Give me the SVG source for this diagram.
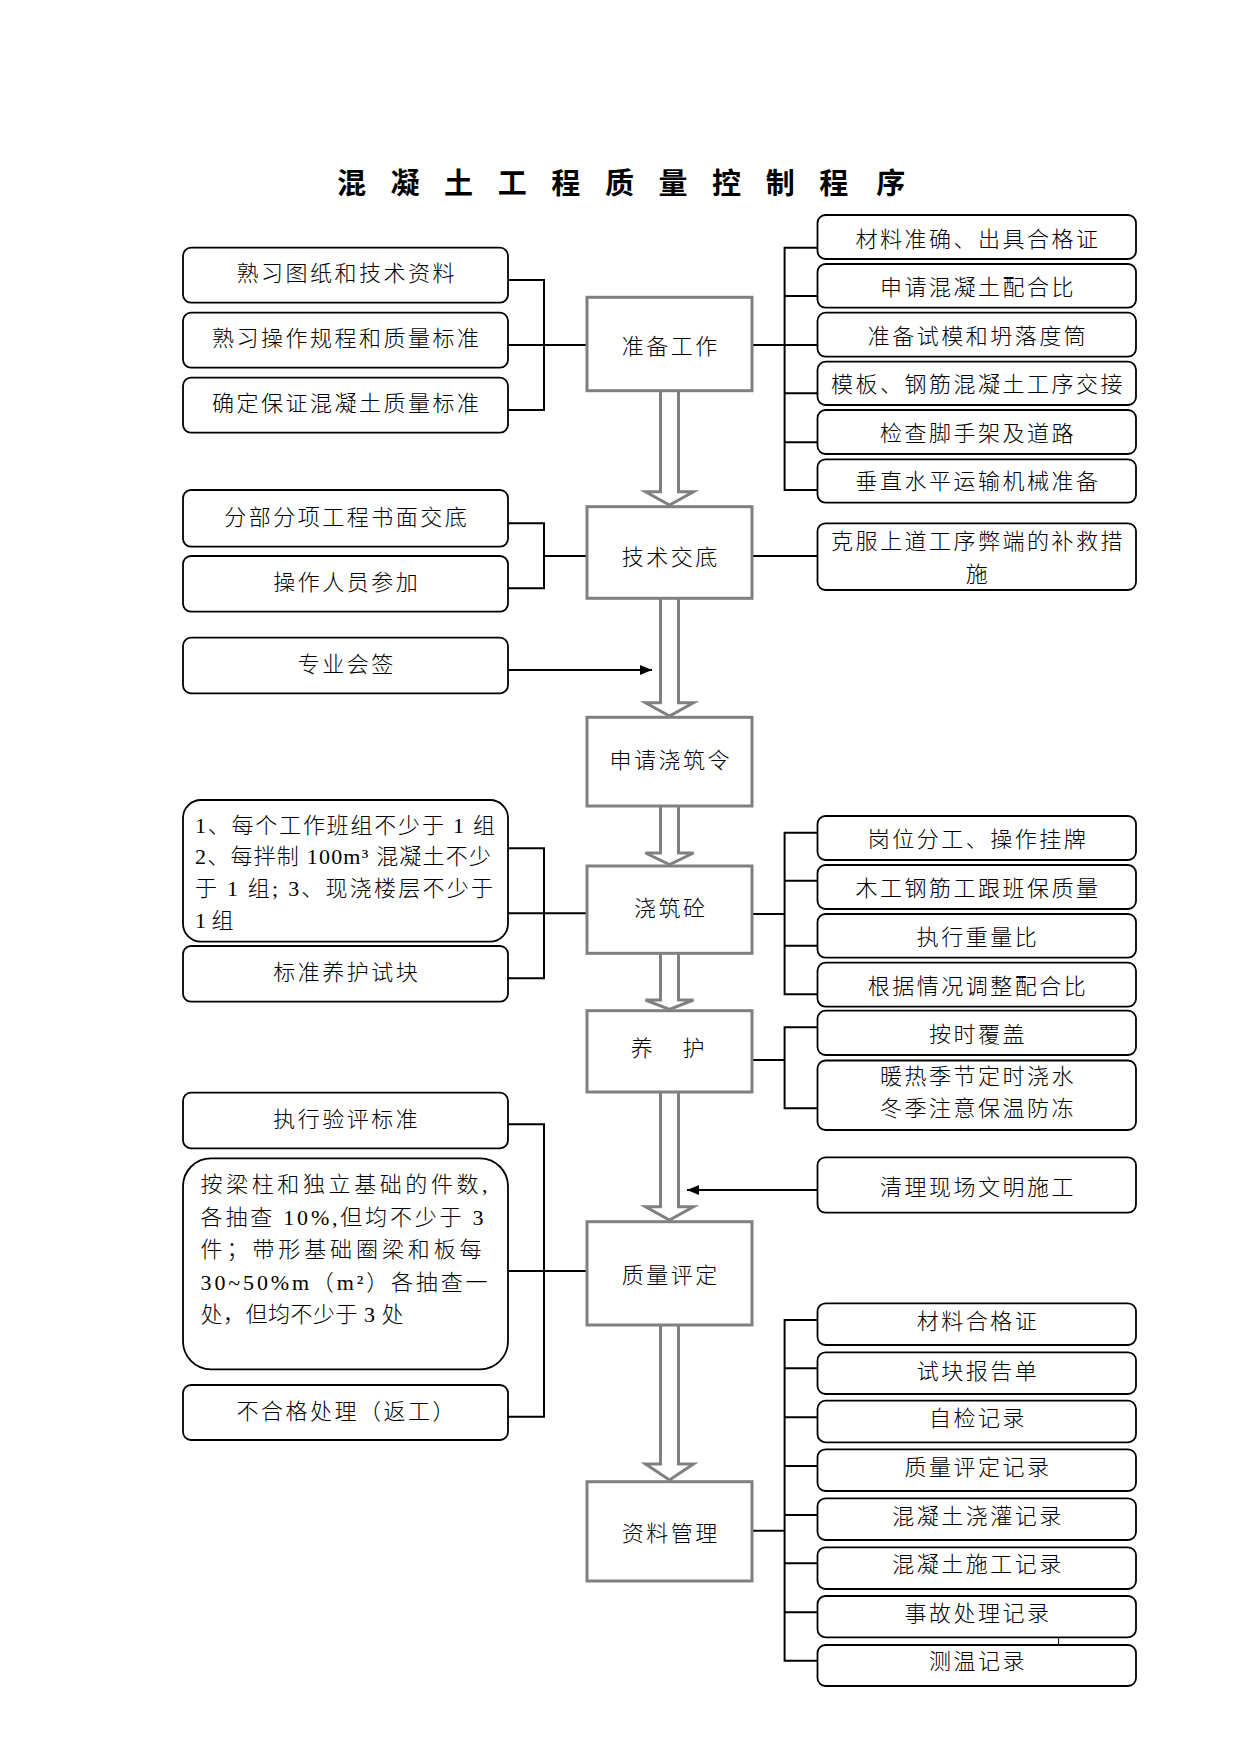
<svg xmlns="http://www.w3.org/2000/svg" width="1241" height="1755" viewBox="0 0 1241 1755">
<style>
.t{font-family:"Liberation Serif","Noto Sans CJK SC",serif;font-size:22px;fill:#000;font-weight:300}
.c{text-anchor:middle;letter-spacing:2.5px}
.title{font-family:"Noto Sans CJK SC",sans-serif;font-size:29px;font-weight:700;fill:#000;text-anchor:middle}
.rb{fill:#fff;stroke:#000;stroke-width:1.8}
.cb{fill:#fff;stroke:#808080;stroke-width:3}
.ln{stroke:#000;stroke-width:2;fill:none}
.ba{fill:#fff;stroke:#808080;stroke-width:3}
</style>
<defs>
<marker id="ah" markerWidth="12" markerHeight="10" refX="12" refY="5" orient="auto" markerUnits="userSpaceOnUse"><path d="M0,0 L12,5 L0,10 z" fill="#000"/></marker>
</defs>
<rect width="1241" height="1755" fill="#fff"/>

<text class="title" y="194"><tspan x="354.7">混 </tspan><tspan x="408.3">凝 </tspan><tspan x="461.9">土 </tspan><tspan x="515.5">工 </tspan><tspan x="569.1">程 </tspan><tspan x="622.7">质 </tspan><tspan x="676.3">量 </tspan><tspan x="729.9">控 </tspan><tspan x="783.5">制 </tspan><tspan x="837.1">程 </tspan><tspan x="890.7">序</tspan></text>

<g id="connectors">
<path class="ba" d="M660.5,390.7 V491.7 H645.5 L669.5,505 L693.5,491.7 H678.5 V390.7"/>
<path class="ba" d="M660.5,598.3 V702.7 H645.5 L669.5,716 L693.5,702.7 H678.5 V598.3"/>
<path class="ba" d="M660.5,806 V853 H645.5 L669.5,864.5 L693.5,853 H678.5 V806"/>
<path class="ba" d="M660.5,953.3 V1000 H645.5 L669.5,1009.5 L693.5,1000 H678.5 V953.3"/>
<path class="ba" d="M660.5,1092 V1206.7 H645.5 L669.5,1220 L693.5,1206.7 H678.5 V1092"/>
<path class="ba" d="M660.5,1325 V1464 H645.5 L669.5,1480 L693.5,1464 H678.5 V1325"/>
<path class="ln" d="M508,280 H544 V410 H508 M508,345 H587"/>
<path class="ln" d="M508,523.3 H544 V588.3 H508 M544,556 H587"/>
<line class="ln" x1="508" y1="670" x2="652" y2="670" marker-end="url(#ah)"/>
<path class="ln" d="M508,848.3 H544 V978.3 H508 M508,913.3 H587"/>
<path class="ln" d="M508,1124.3 H544 V1416.7 H508 M508,1271 H587"/>
<path class="ln" d="M752,345 H784.6 M817.5,247.7 H784.6 V490 H817.5 M784.6,296 H817.5 M784.6,345 H817.5 M784.6,393.3 H817.5 M784.6,442.3 H817.5"/>
<path class="ln" d="M752,556 H817.5"/>
<path class="ln" d="M752,914 H784.6 M817.5,832.7 H784.6 V994.3 H817.5 M784.6,880.7 H817.5 M784.6,945.7 H817.5"/>
<path class="ln" d="M752,1060 H784.6 M817.5,1027.3 H784.6 V1108.3 H817.5"/>
<line class="ln" x1="817.5" y1="1190" x2="687" y2="1190" marker-end="url(#ah)"/>
<path class="ln" d="M753,1530.7 H784.6 M817.5,1320 H784.6 V1660.7 H817.5 M784.6,1368.3 H817.5 M784.6,1417.3 H817.5 M784.6,1466 H817.5 M784.6,1515 H817.5 M784.6,1563.3 H817.5 M784.6,1612.3 H817.5"/>
<line x1="1058.6" y1="1637" x2="1058.6" y2="1645" stroke="#000" stroke-width="1"/>
</g>

<g id="n-zhunbei"><rect class="cb" x="587" y="297.3" width="165" height="93.4"/><text class="t c" x="670.75" y="354">准备工作</text></g>
<g id="n-jishu"><rect class="cb" x="587" y="506.7" width="165" height="91.6"/><text class="t c" x="670.75" y="565">技术交底</text></g>
<g id="n-shenqing"><rect class="cb" x="587" y="717.3" width="165" height="88.7"/><text class="t c" x="670.75" y="767.5">申请浇筑令</text></g>
<g id="n-jiaozhu"><rect class="cb" x="587" y="866" width="165" height="87.3"/><text class="t c" x="670.75" y="915.5">浇筑砼</text></g>
<g id="n-yanghu"><rect class="cb" x="587" y="1010.7" width="165" height="81.3"/><text class="t" y="1055.5" text-anchor="middle"><tspan x="644.5">养 </tspan><tspan x="693.5">护</tspan></text></g>
<g id="n-zhiliang"><rect class="cb" x="587" y="1221.7" width="165" height="103.3"/><text class="t c" x="670.75" y="1282.5">质量评定</text></g>
<g id="n-ziliao"><rect class="cb" x="587" y="1481.7" width="165" height="99.3"/><text class="t c" x="670.75" y="1540.5">资料管理</text></g>

<g id="l1"><rect class="rb" x="183" y="247.7" width="325" height="55" rx="8"/><text class="t c" x="346.75" y="281.4">熟习图纸和技术资料</text></g>
<g id="l2"><rect class="rb" x="183" y="312.7" width="325" height="55" rx="8"/><text class="t c" x="346.75" y="346.4">熟习操作规程和质量标准</text></g>
<g id="l3"><rect class="rb" x="183" y="377.7" width="325" height="55" rx="8"/><text class="t c" x="346.75" y="411.4">确定保证混凝土质量标准</text></g>
<g id="l4"><rect class="rb" x="183" y="490" width="325" height="56.7" rx="8"/><text class="t c" x="346.75" y="524.5">分部分项工程书面交底</text></g>
<g id="l5"><rect class="rb" x="183" y="556" width="325" height="55.7" rx="8"/><text class="t c" x="346.75" y="590">操作人员参加</text></g>
<g id="l6"><rect class="rb" x="183" y="637.7" width="325" height="55.6" rx="8"/><text class="t c" x="346.75" y="671.5">专业会签</text></g>
<g id="l7"><rect class="rb" x="183" y="800" width="325" height="141.7" rx="18"/>
<text class="t" x="195" y="833" textLength="300" lengthAdjust="spacing">1、每个工作班组不少于 1 组</text>
<text class="t" x="195" y="864" textLength="296" lengthAdjust="spacing">2、每拌制 100m³ 混凝土不少</text>
<text class="t" x="195" y="896" textLength="298" lengthAdjust="spacing">于 1 组; 3、现浇楼层不少于</text>
<text class="t" x="195" y="928">1 组</text></g>
<g id="l8"><rect class="rb" x="183" y="946" width="325" height="55.7" rx="8"/><text class="t c" x="346.75" y="980">标准养护试块</text></g>
<g id="l9"><rect class="rb" x="183" y="1092.7" width="325" height="55.6" rx="8"/><text class="t c" x="346.75" y="1126.5">执行验评标准</text></g>
<g id="l10"><rect class="rb" x="183" y="1158.3" width="325" height="211" rx="28"/>
<text class="t" x="200.6" y="1192" textLength="287" lengthAdjust="spacing">按梁柱和独立基础的件数,</text>
<text class="t" x="200.6" y="1224.5" textLength="283" lengthAdjust="spacing">各抽查 10%,但均不少于 3</text>
<text class="t" x="200.6" y="1257" textLength="281" lengthAdjust="spacing">件；带形基础圈梁和板每</text>
<text class="t" x="200.6" y="1289.5" textLength="287" lengthAdjust="spacing">30~50%m（m²）各抽查一</text>
<text class="t" x="200.6" y="1322" style="letter-spacing:0.5px">处，但均不少于 3 处</text></g>
<g id="l11"><rect class="rb" x="183" y="1385" width="325" height="55" rx="8"/><text class="t c" x="346.75" y="1418.5">不合格处理（返工）</text></g>

<g id="r1"><rect class="rb" x="817.5" y="215" width="318.5" height="44" rx="8"/><text class="t c" x="978" y="247">材料准确、出具合格证</text></g>
<g id="r2"><rect class="rb" x="817.5" y="264" width="318.5" height="43.7" rx="8"/><text class="t c" x="978" y="295">申请混凝土配合比</text></g>
<g id="r3"><rect class="rb" x="817.5" y="312.7" width="318.5" height="44" rx="8"/><text class="t c" x="978" y="344">准备试模和坍落度筒</text></g>
<g id="r4"><rect class="rb" x="817.5" y="361.7" width="318.5" height="43.3" rx="8"/><text class="t c" x="978" y="392">模板、钢筋混凝土工序交接</text></g>
<g id="r5"><rect class="rb" x="817.5" y="410" width="318.5" height="44" rx="8"/><text class="t c" x="978" y="441">检查脚手架及道路</text></g>
<g id="r6"><rect class="rb" x="817.5" y="459.3" width="318.5" height="43.4" rx="8"/><text class="t c" x="978" y="489">垂直水平运输机械准备</text></g>
<g id="r7"><rect class="rb" x="817.5" y="523.3" width="318.5" height="66.7" rx="8"/><text class="t c" x="978" y="549">克服上道工序弊端的补救措</text><text class="t c" x="978" y="582">施</text></g>
<g id="r8"><rect class="rb" x="817.5" y="816" width="318.5" height="44" rx="8"/><text class="t c" x="978" y="846.5">岗位分工、操作挂牌</text></g>
<g id="r9"><rect class="rb" x="817.5" y="865" width="318.5" height="44" rx="8"/><text class="t c" x="978" y="896">木工钢筋工跟班保质量</text></g>
<g id="r10"><rect class="rb" x="817.5" y="914" width="318.5" height="43.7" rx="8"/><text class="t c" x="978" y="945">执行重量比</text></g>
<g id="r11"><rect class="rb" x="817.5" y="962.7" width="318.5" height="44" rx="8"/><text class="t c" x="978" y="993.5">根据情况调整配合比</text></g>
<g id="r12"><rect class="rb" x="817.5" y="1010.7" width="318.5" height="44.3" rx="8"/><text class="t c" x="978" y="1041.5">按时覆盖</text></g>
<g id="r13"><rect class="rb" x="817.5" y="1060.5" width="318.5" height="69.5" rx="8"/><text class="t c" x="978" y="1084">暖热季节定时浇水</text><text class="t c" x="978" y="1116">冬季注意保温防冻</text></g>
<g id="r14"><rect class="rb" x="817.5" y="1157.3" width="318.5" height="55.4" rx="8"/><text class="t c" x="978" y="1195">清理现场文明施工</text></g>
<g id="r15"><rect class="rb" x="817.5" y="1303.3" width="318.5" height="41.7" rx="8"/><text class="t c" x="978" y="1328.5">材料合格证</text></g>
<g id="r16"><rect class="rb" x="817.5" y="1352.3" width="318.5" height="41.7" rx="8"/><text class="t c" x="978" y="1378.5">试块报告单</text></g>
<g id="r17"><rect class="rb" x="817.5" y="1400.7" width="318.5" height="41.6" rx="8"/><text class="t c" x="978" y="1425.5">自检记录</text></g>
<g id="r18"><rect class="rb" x="817.5" y="1449.3" width="318.5" height="41.7" rx="8"/><text class="t c" x="978" y="1474.5">质量评定记录</text></g>
<g id="r19"><rect class="rb" x="817.5" y="1498.3" width="318.5" height="41.7" rx="8"/><text class="t c" x="978" y="1523.5">混凝土浇灌记录</text></g>
<g id="r20"><rect class="rb" x="817.5" y="1547.3" width="318.5" height="41.7" rx="8"/><text class="t c" x="978" y="1572">混凝土施工记录</text></g>
<g id="r21"><rect class="rb" x="817.5" y="1596" width="318.5" height="41.3" rx="8"/><text class="t c" x="978" y="1620.5">事故处理记录</text></g>
<g id="r22"><rect class="rb" x="817.5" y="1645" width="318.5" height="41" rx="8"/><text class="t c" x="978" y="1668.5">测温记录</text></g>
</svg>
